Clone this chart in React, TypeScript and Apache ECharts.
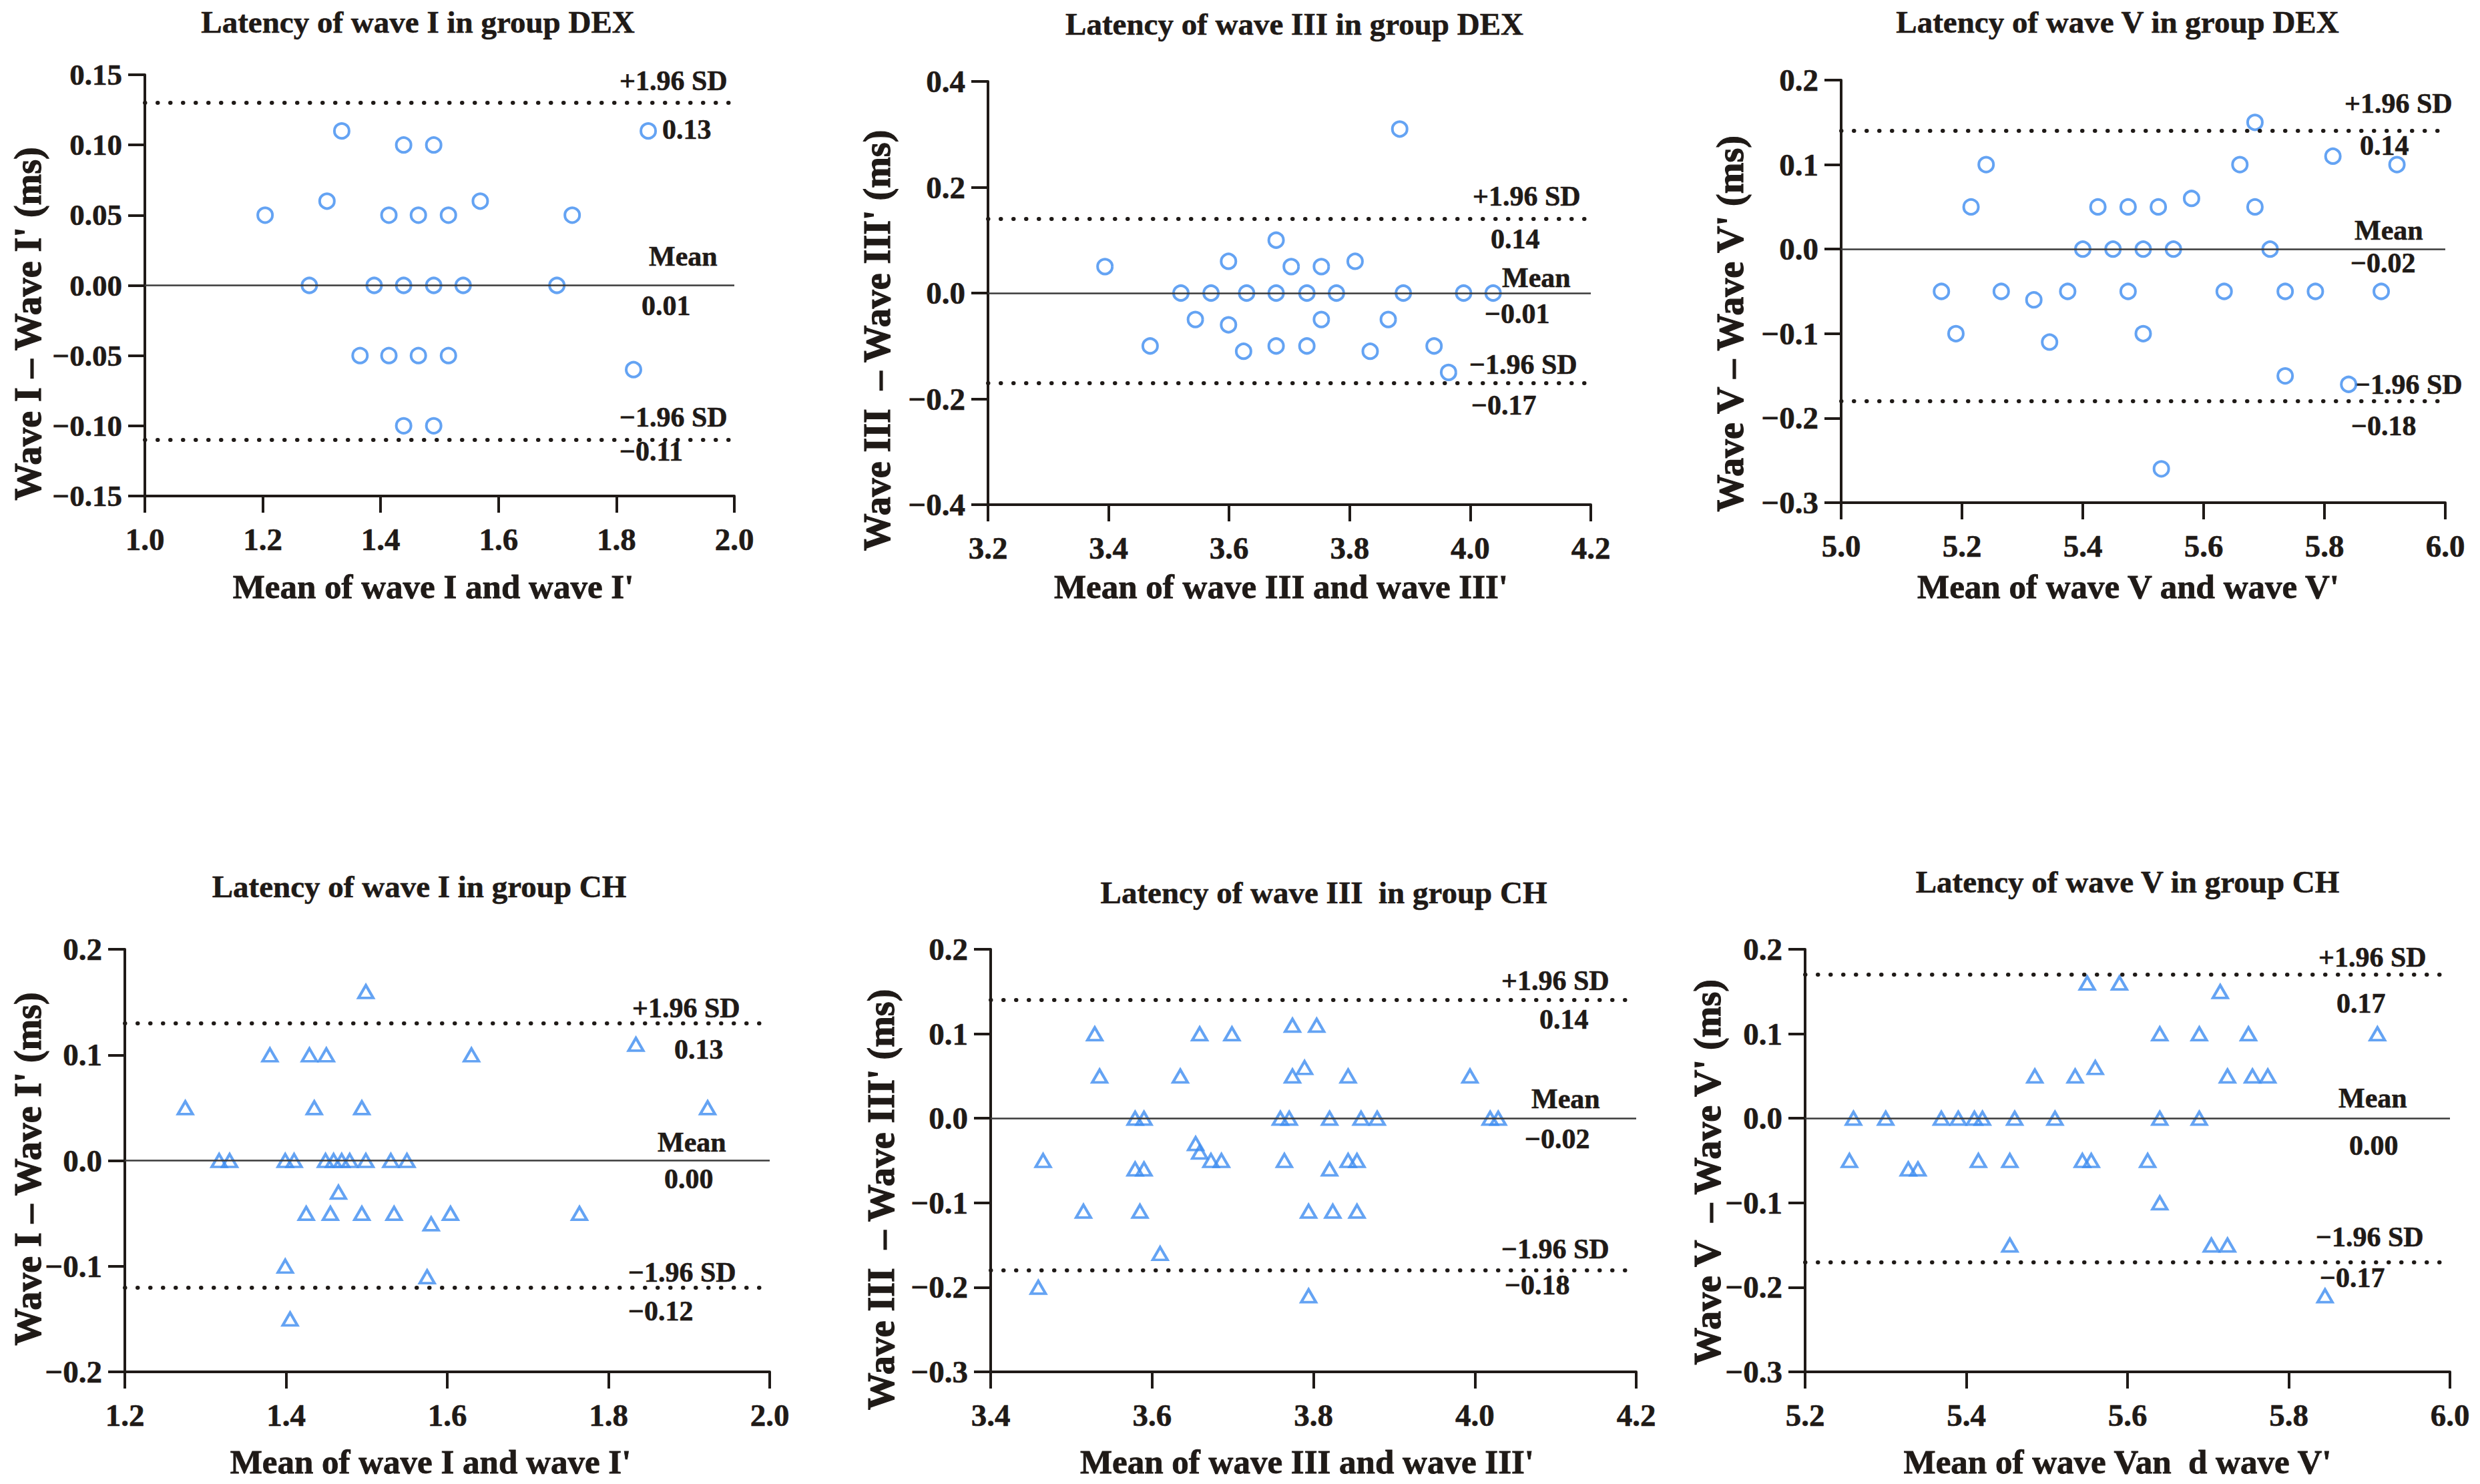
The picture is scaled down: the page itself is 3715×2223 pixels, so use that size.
import React, { useEffect, useRef } from "react";
import * as echarts from "echarts";

const W = 3715;
const H = 2223;
const FONT = '"Liberation Serif", "Times New Roman", serif';
const BLUE = "#3d8cf0";
const INK = "#1f1a17";

// ---- data: means (x) and differences (y) ----
const dexIMean = [1.204, 1.279, 1.309, 1.334, 1.365, 1.389, 1.414, 1.414, 1.439, 1.439, 1.439, 1.464, 1.464, 1.49, 1.49, 1.49, 1.515, 1.515, 1.54, 1.569, 1.699, 1.725, 1.829, 1.854];
const dexIDiff = [0.05, 0, 0.06, 0.11, -0.05, 0, 0.05, -0.05, 0.1, 0, -0.1, 0.05, -0.05, 0.1, 0, -0.1, 0.05, -0.05, 0, 0.06, 0, 0.05, -0.06, 0.11];

const dexIIIMean = [3.394, 3.469, 3.52, 3.544, 3.57, 3.599, 3.599, 3.624, 3.629, 3.678, 3.678, 3.678, 3.703, 3.729, 3.729, 3.753, 3.753, 3.778, 3.809, 3.834, 3.864, 3.883, 3.889, 3.94, 3.964, 3.989, 4.038];
const dexIIIDiff = [0.05, -0.1, 0, -0.05, 0, 0.06, -0.06, -0.11, 0, 0.1, 0, -0.1, 0.05, 0, -0.1, 0.05, -0.05, 0, 0.06, -0.11, -0.05, 0.31, 0, -0.1, -0.15, 0, 0];

const dexVMean = [5.166, 5.19, 5.215, 5.24, 5.265, 5.319, 5.345, 5.375, 5.4, 5.425, 5.45, 5.475, 5.475, 5.5, 5.5, 5.525, 5.53, 5.55, 5.58, 5.634, 5.66, 5.685, 5.685, 5.71, 5.735, 5.735, 5.785, 5.814, 5.84, 5.894, 5.92];
const dexVDiff = [-0.05, -0.1, 0.05, 0.1, -0.05, -0.06, -0.11, -0.05, 0, 0.05, 0, 0.05, -0.05, 0, -0.1, 0.05, -0.26, 0, 0.06, -0.05, 0.1, 0.15, 0.05, 0, -0.05, -0.15, -0.05, 0.11, -0.16, -0.05, 0.1];

const chIMean = [1.275, 1.317, 1.33, 1.38, 1.399, 1.399, 1.405, 1.41, 1.425, 1.429, 1.435, 1.449, 1.45, 1.455, 1.459, 1.465, 1.469, 1.479, 1.494, 1.494, 1.499, 1.499, 1.53, 1.534, 1.55, 1.575, 1.58, 1.604, 1.63, 1.764, 1.834, 1.923];
const chIDiff = [0.05, 0, 0, 0.1, 0, -0.1, -0.15, 0, -0.05, 0.1, 0.05, 0, 0.1, -0.05, 0, -0.03, 0, 0, 0.05, -0.05, 0.16, 0, 0, -0.05, 0, -0.11, -0.06, -0.05, 0.1, -0.05, 0.11, 0.05];

const chIIIMean = [3.459, 3.465, 3.515, 3.529, 3.535, 3.579, 3.579, 3.585, 3.59, 3.59, 3.61, 3.635, 3.654, 3.659, 3.659, 3.673, 3.686, 3.699, 3.759, 3.764, 3.77, 3.774, 3.774, 3.789, 3.794, 3.794, 3.804, 3.82, 3.82, 3.824, 3.843, 3.843, 3.854, 3.854, 3.859, 3.879, 3.994, 4.019, 4.029];
const chIIIDiff = [-0.2, -0.05, -0.11, 0.1, 0.05, 0, -0.06, -0.11, 0, -0.06, -0.16, 0.05, -0.03, 0.1, -0.04, -0.05, -0.05, 0.1, 0, -0.05, 0, 0.11, 0.05, 0.06, -0.11, -0.21, 0.11, 0, -0.06, -0.11, 0.05, -0.05, -0.05, -0.11, 0, 0, 0.05, 0, 0];

const chVMean = [5.255, 5.26, 5.3, 5.328, 5.34, 5.369, 5.39, 5.41, 5.415, 5.42, 5.454, 5.454, 5.46, 5.485, 5.51, 5.535, 5.544, 5.55, 5.555, 5.56, 5.59, 5.625, 5.64, 5.64, 5.64, 5.689, 5.689, 5.704, 5.715, 5.724, 5.724, 5.75, 5.755, 5.774, 5.845, 5.91];
const chVDiff = [-0.05, 0, 0, -0.06, -0.06, 0, 0, 0, -0.05, 0, -0.05, -0.15, 0, 0.05, 0, 0.05, -0.05, 0.16, -0.05, 0.06, 0.16, -0.05, 0.1, 0, -0.1, 0.1, 0, -0.15, 0.15, 0.05, -0.15, 0.1, 0.05, 0.05, -0.21, 0.1];

const means = [dexIMean, dexIIIMean, dexVMean, chIMean, chIIIMean, chVMean];
const diffs = [dexIDiff, dexIIIDiff, dexVDiff, chIDiff, chIIIDiff, chVDiff];

const titles = [
  "Latency of wave I in group DEX",
  "Latency of wave III in group DEX",
  "Latency of wave V in group DEX",
  "Latency of wave I in group CH",
  "Latency of wave III  in group CH",
  "Latency of wave V in group CH",
];
const xTitles = [
  "Mean of wave I and wave I'",
  "Mean of wave III and wave III'",
  "Mean of wave V and wave V'",
  "Mean of wave I and wave I'",
  "Mean of wave III and wave III'",
  "Mean of wave Van  d wave V'",
];
const yTitles = [
  "Wave I \u2013 Wave I' (ms)",
  "Wave III  \u2013 Wave III' (ms)",
  "Wave V \u2013 Wave V' (ms)",
  "Wave I \u2013 Wave I' (ms)",
  "Wave III  \u2013 Wave III' (ms)",
  "Wave V  \u2013 Wave V' (ms)",
];

const upperLimits = [0.131, 0.14, 0.144, 0.13, 0.136, 0.165];
const lowerLimits = [-0.108, -0.17, -0.184, -0.123, -0.178, -0.166];
const upperText = ["0.13", "0.14", "0.14", "0.13", "0.14", "0.17"];
const meanText = ["0.01", "\u22120.01", "\u22120.02", "0.00", "\u22120.02", "0.00"];
const lowerText = ["\u22120.11", "\u22120.17", "\u22120.18", "\u22120.12", "\u22120.18", "\u22120.17"];

const xMins = [1.0, 3.2, 5.0, 1.2, 3.4, 5.2];
const xMaxs = [2.0, 4.2, 6.0, 2.0, 4.2, 6.0];
const yMins = [-0.15, -0.4, -0.3, -0.2, -0.3, -0.3];
const yMaxs = [0.15, 0.4, 0.2, 0.2, 0.2, 0.2];
const yIntervals = [0.05, 0.2, 0.1, 0.1, 0.1, 0.1];
const yDecimals = [2, 1, 1, 1, 1, 1];
const symbols = ["circle", "circle", "circle", "triangle", "triangle", "triangle"];

// ---- layout (pixels) ----
const grids = [
  { left: 217, top: 112, width: 883, height: 631 },
  { left: 1480, top: 122, width: 903, height: 634 },
  { left: 2758, top: 120, width: 905, height: 633 },
  { left: 187, top: 1422, width: 966, height: 633 },
  { left: 1484, top: 1422, width: 967, height: 633 },
  { left: 2704, top: 1422, width: 966, height: 633 },
];
const titlePos = [[626, 33], [1939, 36], [3172, 33], [628, 1328], [1983, 1337], [3187, 1321]];
const xTitlePos = [[649, 879], [1919, 879], [3188, 879], [645, 2190], [1958, 2190], [3172, 2190]];
const yTitlePos = [[42, 485], [1314, 510], [2592, 485], [42, 1751], [1320, 1797], [2558, 1756]];
// offsets of [upperName, upperValue, meanName, meanValue, lowerName, lowerValue] from right end of line
const annOffsets = [
  [[-172, -31], [-108, 42], [-128, -44], [-139, 30], [-172, -30], [-172, 21]],
  [[-177, -34], [-150, 30], [-133, -23], [-159, 31], [-182, -28], [-179, 33]],
  [[-151, -36], [-128, 27], [-136, -28], [-142, 21], [-136, -30], [-141, 32]],
  [[-206, -23], [-143, 39], [-168, -28], [-158, 27], [-212, -27], [-212, 31]],
  [[-202, -34], [-145, 24], [-157, -29], [-167, 31], [-202, -30], [-197, 24]],
  [[-197, -32], [-170, 37], [-167, -30], [-151, 41], [-201, -32], [-195, 29]],
];

const fmt = (v: number, d: number) => {
  const s = Math.abs(v).toFixed(d);
  return v < -1e-9 ? "\u2212" + s : s;
};

function textEl(text: string, x: number, y: number, size: number, align: string, rotation = 0, stroke = 0.6) {
  return {
    type: "text",
    x,
    y,
    rotation,
    silent: true,
    style: {
      text,
      fill: INK,
      fontFamily: FONT,
      fontWeight: "bold",
      fontSize: size,
      align,
      verticalAlign: "middle",
      textAlign: align,
      textVerticalAlign: "middle",
      stroke: INK,
      lineWidth: stroke,
    },
  };
}

function buildOption() {
  const axisLine = { show: true, onZero: false, lineStyle: { color: INK, width: 4 } };
  const axisTick = { show: true, length: 25, lineStyle: { color: INK, width: 4 } };
  const labelBase = {
    fontFamily: FONT,
    fontWeight: "bold",
    color: INK,
    fontSize: 47,
    textBorderColor: INK,
    textBorderWidth: 0.6,
  };
  return {
    animation: false,
    backgroundColor: "#ffffff",
    grid: grids.map((g) => ({ ...g, containLabel: false })),
    xAxis: grids.map((_, i) => ({
      type: "value",
      gridIndex: i,
      min: xMins[i],
      max: xMaxs[i],
      interval: 0.2,
      axisLine,
      axisTick,
      splitLine: { show: false },
      axisLabel: { ...labelBase, margin: 41, formatter: (v: number) => fmt(v, 1) },
    })),
    yAxis: grids.map((_, i) => ({
      type: "value",
      gridIndex: i,
      min: yMins[i],
      max: yMaxs[i],
      interval: yIntervals[i],
      axisLine,
      axisTick,
      splitLine: { show: false },
      axisLabel: { ...labelBase, fontSize: i === 0 ? 45 : 47, margin: 34, formatter: (v: number) => fmt(v, yDecimals[i]) },
    })),
    series: grids.map((_, i) => ({
      type: "scatter",
      xAxisIndex: i,
      yAxisIndex: i,
      symbol: symbols[i],
      symbolSize: symbols[i] === "circle" ? 22 : [22, 19],
      itemStyle: { color: "rgba(0,0,0,0)", borderColor: BLUE, borderWidth: 4 },
      data: means[i].map((x, k) => [x, diffs[i][k]]),
      z: 3,
      markLine: {
        silent: true,
        symbol: "none",
        label: { show: false },
        animation: false,
        data: [
          { yAxis: 0, lineStyle: { type: "solid", color: "#3a3a3a", width: 2.5 } },
          { yAxis: upperLimits[i], lineStyle: { type: [0.5, 18.5], cap: "round", color: INK, width: 6 } },
          { yAxis: lowerLimits[i], lineStyle: { type: [0.5, 18.5], cap: "round", color: INK, width: 6 } },
        ],
      },
    })),
  };
}

export default function App() {
  const ref = useRef<HTMLDivElement>(null);
  useEffect(() => {
    const el = ref.current;
    if (!el) return;
    const chart = echarts.init(el, null, { renderer: "svg", width: W, height: H });
    chart.setOption(buildOption() as any);
    const graphics: any[] = [];
    for (let i = 0; i < 6; i++) {
      graphics.push(textEl(titles[i], titlePos[i][0], titlePos[i][1], 47, "center"));
      graphics.push(textEl(xTitles[i], xTitlePos[i][0], xTitlePos[i][1], 51, "center", 0, 0.8));
      graphics.push(textEl(yTitles[i], yTitlePos[i][0], yTitlePos[i][1], 56, "center", Math.PI / 2, 1.2));
      const lines = [upperLimits[i], 0, lowerLimits[i]];
      const texts = [
        ["+1.96 SD", upperText[i]],
        ["Mean", meanText[i]],
        ["\u22121.96 SD", lowerText[i]],
      ];
      lines.forEach((v, j) => {
        const p = chart.convertToPixel({ gridIndex: i } as any, [xMaxs[i], v]) as number[];
        const o1 = annOffsets[i][j * 2];
        const o2 = annOffsets[i][j * 2 + 1];
        graphics.push(textEl(texts[j][0], p[0] + o1[0], p[1] + o1[1], 42, "left"));
        graphics.push(textEl(texts[j][1], p[0] + o2[0], p[1] + o2[1], 42, "left"));
      });
    }
    chart.setOption({ graphic: graphics } as any);
    return () => chart.dispose();
  }, []);
  return (
    <div
      ref={ref}
      style={{ position: "absolute", left: 0, top: 0, width: W, height: H, background: "#ffffff" }}
    />
  );
}
